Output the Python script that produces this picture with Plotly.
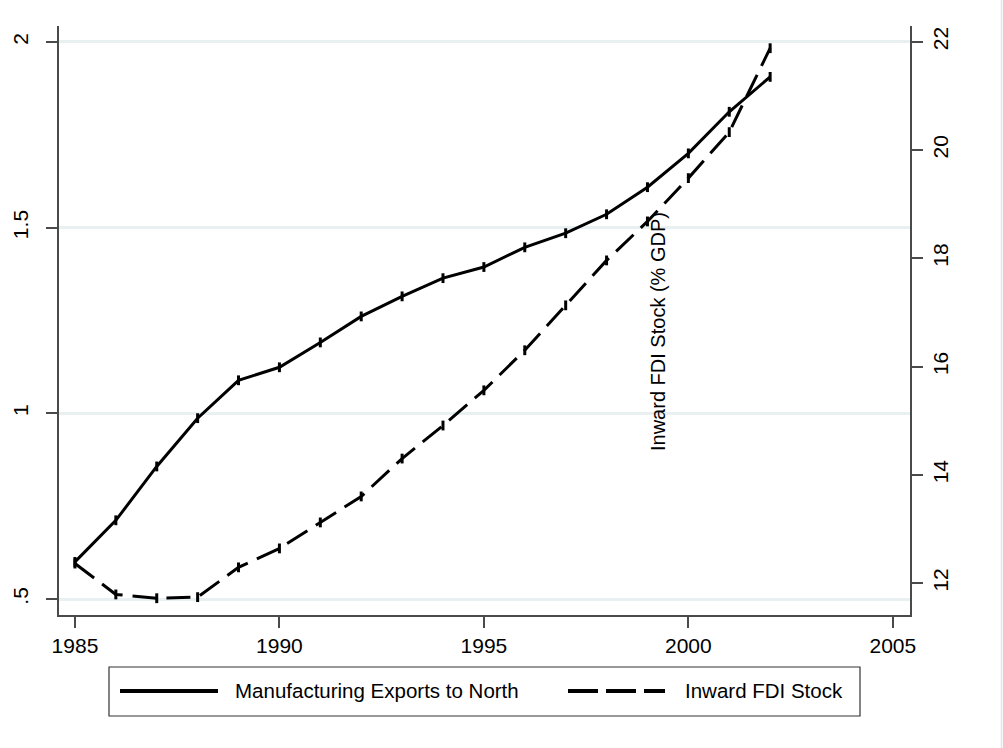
import plotly.graph_objects as go

# Annual series, 1985-2002
years = list(range(1985, 2003))
mfg_exports_north = [0.600, 0.712, 0.857, 0.987, 1.089, 1.124, 1.191, 1.261, 1.315,
                     1.364, 1.394, 1.447, 1.485, 1.536, 1.609, 1.700, 1.812, 1.906]
inward_fdi_stock = [12.36, 11.79, 11.72, 11.74, 12.29, 12.64, 13.12, 13.60, 14.30,
                    14.91, 15.56, 16.30, 17.13, 17.96, 18.68, 19.48, 20.33, 21.88]

x_ticks = [1985, 1990, 1995, 2000, 2005]
left_ticks = [0.5, 1, 1.5, 2]
left_labels = [".5", "1", "1.5", "2"]
right_ticks = [12, 14, 16, 18, 20, 22]

FONT = "Liberation Sans, Arial, sans-serif"
AXIS_COLOR = "#4a4a4a"
GRID_COLOR = "#e8f0f2"
TICK_FONT = dict(size=21, color="black", family=FONT)

fig = go.Figure()
fig.add_trace(go.Scatter(
    x=years, y=mfg_exports_north, mode="lines+markers", name="Manufacturing Exports to North",
    line=dict(color="black", width=3),
    marker=dict(symbol="line-ns", size=7, line=dict(color="black", width=3)),
    yaxis="y", showlegend=False))
fig.add_trace(go.Scatter(
    x=years, y=inward_fdi_stock, mode="lines+markers", name="Inward FDI Stock",
    line=dict(color="black", width=3, dash="24px,10px"),
    marker=dict(symbol="line-ns", size=7, line=dict(color="black", width=3)),
    yaxis="y2", showlegend=False))

# plot-area geometry in pixels (used for the hand-drawn legend block)
W, H = 1003, 748
ML, MR, MT, MB = 59, 93, 26, 133
PW, PH = W - ML - MR, H - MT - MB


def px(x):
    return (x - ML) / PW


def py(y):
    return (H - MB - y) / PH


shapes = [
    # legend frame
    dict(type="rect", xref="paper", yref="paper", x0=px(109), x1=px(860), y0=py(716), y1=py(667),
         line=dict(color="#333333", width=1.2), fillcolor="white", layer="above"),
    dict(type="line", xref="paper", yref="paper", x0=px(120), x1=px(218), y0=py(691), y1=py(691),
         line=dict(color="black", width=4)),
    dict(type="line", xref="paper", yref="paper", x0=px(568), x1=px(665), y0=py(691), y1=py(691),
         line=dict(color="black", width=4, dash="30px,8px")),
    # outer right border
    dict(type="line", xref="paper", yref="paper", x0=px(1001.5), x1=px(1001.5), y0=py(748), y1=py(0),
         line=dict(color="#dfe6ea", width=1.5)),
]

LEGEND_FONT = dict(size=20.5, color="black", family=FONT)
annotations = [
    dict(text="Manufacturing Exports to North", xref="paper", yref="paper", x=px(233), y=py(691),
         xanchor="left", yanchor="middle", showarrow=False, font=LEGEND_FONT),
    dict(text="Inward FDI Stock", xref="paper", yref="paper", x=px(683), y=py(691),
         xanchor="left", yanchor="middle", showarrow=False, font=LEGEND_FONT),
    dict(text="Inward FDI Stock (% GDP)", xref="paper", yref="paper", x=px(658), y=py(332),
         xanchor="center", yanchor="middle", textangle=-90, showarrow=False,
         font=dict(size=20, color="black", family=FONT)),
]

fig.update_layout(
    width=W, height=H,
    margin=dict(l=ML, r=MR, t=MT, b=MB, autoexpand=False),
    plot_bgcolor="white", paper_bgcolor="white",
    font=dict(family=FONT, size=20, color="black"),
    xaxis=dict(range=[1984.61, 2005.42], tickvals=x_ticks, showgrid=False, zeroline=False,
               showline=True, linecolor=AXIS_COLOR, linewidth=1.5, tickfont=TICK_FONT,
               automargin=False,
               ticks="outside", ticklen=11, tickwidth=1.5, tickcolor=AXIS_COLOR),
    yaxis=dict(range=[0.457, 2.043], tickvals=left_ticks, ticktext=left_labels, tickangle=-90,
               showgrid=True, gridcolor=GRID_COLOR, gridwidth=2.5, zeroline=False,
               showline=True, linecolor=AXIS_COLOR, linewidth=1.5, tickfont=TICK_FONT,
               ticklabelstandoff=10, automargin=False,
               ticks="outside", ticklen=11, tickwidth=1.5, tickcolor=AXIS_COLOR),
    yaxis2=dict(range=[11.41, 22.29], tickvals=right_ticks, tickangle=-90, overlaying="y", side="right",
                showgrid=False, zeroline=False, tickfont=TICK_FONT, automargin=False,
                showline=True, linecolor=AXIS_COLOR, linewidth=1.5,
                ticks="outside", ticklen=11, tickwidth=1.5, tickcolor=AXIS_COLOR),
    shapes=shapes,
    annotations=annotations,
)

fig.write_html("out.html")
